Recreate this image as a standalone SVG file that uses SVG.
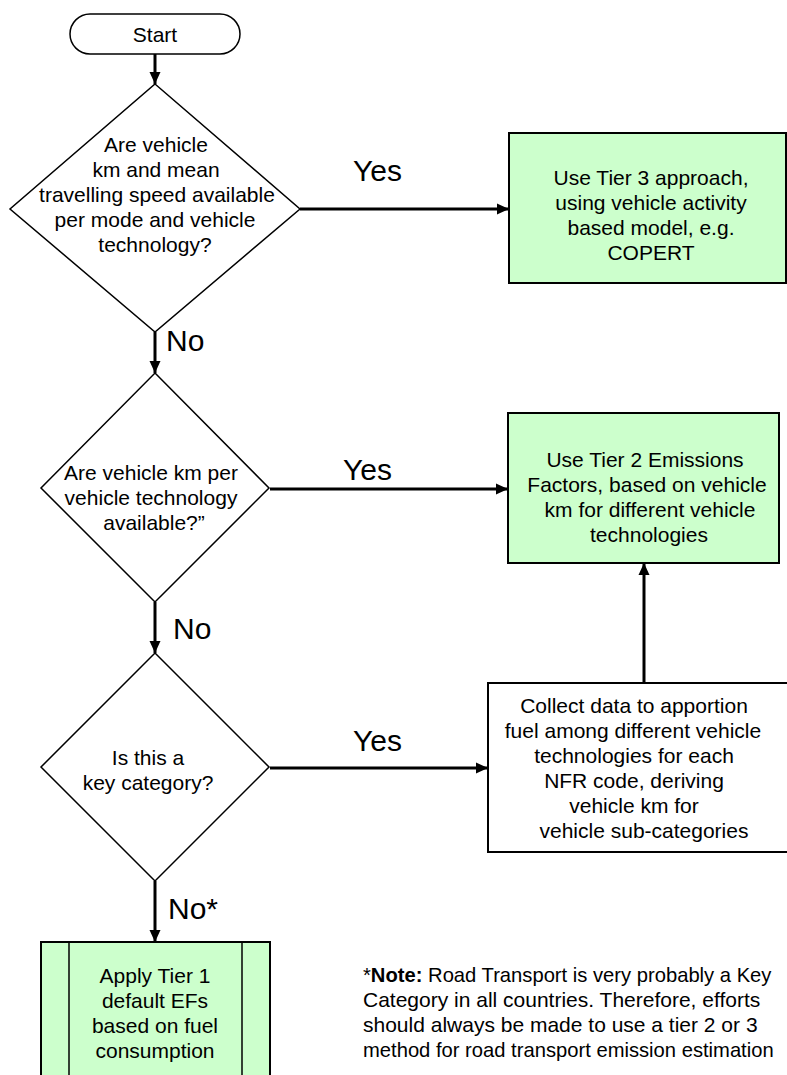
<svg xmlns="http://www.w3.org/2000/svg" width="787" height="1075" viewBox="0 0 787 1075">
<defs>
<style>
text{font-family:"Liberation Sans",Arial,sans-serif;fill:#000;}
.t{font-size:21px;text-anchor:middle;}
.lbl{font-size:30px;}
.note{font-size:21px;}
.note2{font-size:20.2px;}
.shape{fill:#fff;stroke:#000;stroke-width:1.5;}
.green{fill:#ccffcc;stroke:#000;stroke-width:2;}
.box{fill:#fff;stroke:#000;stroke-width:2;}
.conn{stroke:#000;stroke-width:3;fill:none;marker-end:url(#arr);}
</style>
<marker id="arr" markerUnits="userSpaceOnUse" markerWidth="14" markerHeight="14" viewBox="0 0 14 14" refX="13" refY="7" orient="auto">
<path d="M1,1.5 L13,7 L1,12.5 Z" fill="#000"/>
</marker>
</defs>
<rect width="787" height="1075" fill="#fff"/>
<g id="connectors">
<line class="conn" x1="155" y1="54" x2="155" y2="84"/>
<line class="conn" x1="300" y1="209" x2="509" y2="209"/>
<line class="conn" x1="155" y1="332" x2="155" y2="373"/>
<line class="conn" x1="270" y1="489" x2="508" y2="489"/>
<line class="conn" x1="155" y1="602" x2="155" y2="653"/>
<line class="conn" x1="270" y1="768" x2="488" y2="768"/>
<line class="conn" x1="644" y1="683" x2="644" y2="563"/>
<line class="conn" x1="155" y1="881" x2="155" y2="942"/>
<text class="lbl" x="353" y="181">Yes</text>
<text class="lbl" x="166" y="351">No</text>
<text class="lbl" x="343" y="480">Yes</text>
<text class="lbl" x="173" y="639">No</text>
<text class="lbl" x="353" y="751">Yes</text>
<text class="lbl" x="168" y="919">No*</text>
</g>
<g id="start">
<rect class="shape" x="70" y="14" width="170" height="40" rx="20" ry="20"/>
<text class="t" x="155" y="42">Start</text>
</g>
<g id="decision1">
<polygon class="shape" points="155,84 300,209 155,332 10,209"/>
<text class="t" x="156" y="152">Are vehicle</text>
<text class="t" x="156" y="177">km and mean</text>
<text class="t" x="157" y="202">travelling speed available</text>
<text class="t" x="155" y="227">per mode and vehicle</text>
<text class="t" x="155" y="252">technology?</text>
</g>
<g id="tier3">
<rect class="green" x="509" y="133" width="277" height="150"/>
<text class="t" x="651" y="185">Use Tier 3 approach,</text>
<text class="t" x="651" y="210">using vehicle activity</text>
<text class="t" x="651" y="235">based model, e.g.</text>
<text class="t" x="651" y="260">COPERT</text>
</g>
<g id="decision2">
<polygon class="shape" points="155,373 269,488 155,602 41,488"/>
<text class="t" x="151" y="480">Are vehicle km per</text>
<text class="t" x="151" y="505">vehicle technology</text>
<text class="t" x="154" y="530">available?”</text>
</g>
<g id="tier2">
<rect class="green" x="508" y="413" width="271" height="150"/>
<text class="t" x="645" y="467">Use Tier 2 Emissions</text>
<text class="t" x="647" y="492">Factors, based on vehicle</text>
<text class="t" x="650" y="517">km for different vehicle</text>
<text class="t" x="649" y="542">technologies</text>
</g>
<g id="decision3">
<polygon class="shape" points="155,653 269,767 155,881 41,767"/>
<text class="t" x="148" y="765">Is this a</text>
<text class="t" x="148" y="790">key category?</text>
</g>
<g id="collect">
<rect class="box" x="488" y="683" width="320" height="169"/>
<text class="t" x="634" y="713">Collect data to apportion</text>
<text class="t" x="633" y="738">fuel among different vehicle</text>
<text class="t" x="634" y="763">technologies for each</text>
<text class="t" x="634" y="788">NFR code, deriving</text>
<text class="t" x="634" y="813">vehicle km for</text>
<text class="t" x="644" y="838">vehicle sub-categories</text>
</g>
<g id="tier1">
<rect class="green" x="41" y="942" width="229" height="150"/>
<line x1="69" y1="942" x2="69" y2="1092" stroke="#000" stroke-width="1.5"/>
<line x1="242" y1="942" x2="242" y2="1092" stroke="#000" stroke-width="1.5"/>
<text class="t" x="155" y="983">Apply Tier 1</text>
<text class="t" x="155" y="1008">default EFs</text>
<text class="t" x="155" y="1033">based on fuel</text>
<text class="t" x="155" y="1058">consumption</text>
</g>
<g id="note">
<text class="note2" x="363" y="982">*<tspan font-weight="bold">Note:</tspan> Road Transport is very probably a Key</text>
<text class="note" x="363" y="1007">Category in all countries. Therefore, efforts</text>
<text class="note" x="363" y="1032">should always be made to use a tier 2 or 3</text>
<text class="note2" x="363" y="1057">method for road transport emission estimation</text>
</g>
</svg>
